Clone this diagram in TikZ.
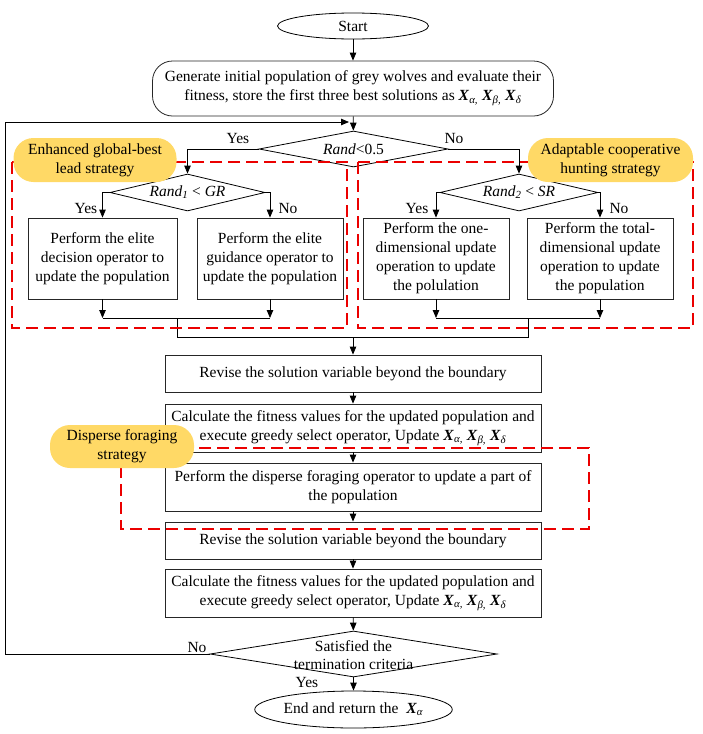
\documentclass[tikz,border=0pt]{standalone}
\usepackage{fontspec}
\setmainfont{Liberation Serif}
\usetikzlibrary{shapes.geometric,arrows.meta}
\definecolor{tagy}{RGB}{255,217,102}
\definecolor{dred}{RGB}{235,0,0}
\newcommand{\Xv}[1]{\textbf{\textit{X}}\textsubscript{\textit{#1}}}
\newcommand{\fsz}{\fontsize{15.5pt}{19pt}\selectfont}
\begin{document}
\begin{tikzpicture}[x=1pt,y=-1pt, font=\fsz,
 every node/.style={inner sep=0pt},
 box/.style={draw=black!85, line width=0.8pt, rectangle, align=center},
 term/.style={draw=black, line width=0.8pt, ellipse},
 dec/.style={draw=black, line width=0.8pt, diamond},
 txt/.style={align=center},
 arr/.style={line width=0.8pt, -{Triangle[length=8pt,width=6.5pt]}},
 ln/.style={line width=0.8pt},
 redbox/.style={draw=dred, line width=1.6pt, dash pattern=on 12pt off 6pt},
 strat/.style={fill=tagy, rounded corners=20pt, align=center, minimum height=44pt}]
\useasboundingbox (0,0) rectangle (702,734);
% main nodes
\node[term, minimum width=151pt, minimum height=26pt] (start) at (353,26) {Start};
\node[box, rounded corners=20pt, minimum width=401pt, minimum height=55pt] (gen) at (353,88.5)
 {Generate initial population of grey wolves and evaluate their\\fitness, store the first three best solutions as \Xv{α,} \Xv{β,} \Xv{δ}};
\node[dec, minimum width=189pt, minimum height=36pt] (d1) at (353.5,149) {};
\node[txt] (d1t) at (d1) {\textit{Rand}<0.5};
\node[dec, minimum width=155pt, minimum height=37pt] (d2) at (187.5,192.5) {};
\node[txt] (d2t) at (d2) {\textit{Rand}\textsubscript{\textit{1}} < \textit{GR}};
\node[dec, minimum width=158pt, minimum height=37pt] (d3) at (519,192.5) {};
\node[txt] (d3t) at (d3) {\textit{Rand}\textsubscript{\textit{2}} < \textit{SR}};
\node[box, minimum width=149pt, minimum height=81pt] (b1) at (102.5,258.5) {Perform the elite\\decision operator to\\update the population};
\node[box, minimum width=146pt, minimum height=81pt] (b2) at (270,258.5) {Perform the elite\\guidance operator to\\update the population};
\node[box, minimum width=146pt, minimum height=81pt] (b3) at (436,258.5) {Perform the one-\\dimensional update\\operation to update\\the polulation};
\node[box, minimum width=146pt, minimum height=81pt] (b4) at (600,258.5) {Perform the total-\\dimensional update\\operation to update\\the population};
\node[box, minimum width=376pt, minimum height=37pt] (r1) at (353,373.5) {Revise the solution variable beyond the boundary};
\node[box, minimum width=376pt, minimum height=48pt] (c1) at (353,428) {Calculate the fitness values for the updated population and\\execute greedy select operator, Update \Xv{α,} \Xv{β,} \Xv{δ}};
\node[box, minimum width=376pt, minimum height=48pt] (p1) at (353,487) {Perform the disperse foraging operator to update a part of\\the population};
\node[box, minimum width=376pt, minimum height=37pt] (r2) at (353,540.5) {Revise the solution variable beyond the boundary};
\node[box, minimum width=376pt, minimum height=48pt] (c2) at (353,593) {Calculate the fitness values for the updated population and\\execute greedy select operator, Update \Xv{α,} \Xv{β,} \Xv{δ}};
\node[dec, minimum width=287pt, minimum height=46pt] (d4) at (353.5,654) {};
\node[txt, font=\fontsize{15.5pt}{18pt}\selectfont] (d4t) at (353.5,655) {Satisfied the\\termination criteria};
\node[term, minimum width=197pt, minimum height=37pt] (end) at (353.5,709.5) {End and return the\ \ \Xv{α}};
% branch labels
\node[txt] (yes1) at (238,138) {Yes};
\node[txt] (no1) at (454,138) {No};
\node[txt] (yes2) at (86,208) {Yes};
\node[txt] (no2) at (288,208) {No};
\node[txt] (yes3) at (417,208) {Yes};
\node[txt] (no3) at (619,208) {No};
\node[txt] (no4) at (197,647) {No};
\node[txt] (yes4) at (307,682) {Yes};
% connectors
\draw[arr] (start) -- (gen);
\draw[arr] (gen) -- (d1);
\coordinate (lpx) at (5.5,654);
\coordinate (lpy) at (5.5,122);
\coordinate (lpe) at (349,122);
\draw[arr] (d4.west) -- (lpx) -- (lpy) -- (lpe);
\draw[arr] (d1.west) -| (d2.north);
\draw[arr] (d1.east) -| (d3.north);
\draw[arr] (d2.west) -| (b1.north);
\draw[arr] (d2.east) -| (b2.north);
\draw[arr] (d3.west) -| (b3.north);
\draw[arr] (d3.east) -| (b4.north);
\coordinate (mL) at (177,318);
\coordinate (mR) at (528,318);
\coordinate (jL) at (177,337);
\coordinate (jR) at (528,337);
\draw[arr] (b1.south) -- (b1.south |- mL);
\draw[arr] (b2.south) -- (b2.south |- mL);
\draw[arr] (b3.south) -- (b3.south |- mR);
\draw[arr] (b4.south) -- (b4.south |- mR);
\draw[ln] (b1.south |- mL) -- (b2.south |- mL);
\draw[ln] (b3.south |- mR) -- (b4.south |- mR);
\draw[ln] (mL) -- (jL) -- (jR) -- (mR);
\draw[arr] (r1.north |- jL) -- (r1.north);
\draw[arr] (r1) -- (c1);
\draw[arr] (c1) -- (p1);
\draw[arr] (p1) -- (r2);
\draw[arr] (r2) -- (c2);
\draw[arr] (c2) -- (d4);
\draw[arr] (d4) -- (end);
% strategy regions
\draw[redbox] (12,162) rectangle (347,328);
\draw[redbox] (358,162) rectangle (693,328);
\draw[redbox] (121,448) rectangle (589,529);
\node[strat, minimum width=163pt] (s1) at (95,160) {Enhanced global-best\\lead strategy};
\node[strat, minimum width=165pt] (s2) at (610.5,160) {Adaptable cooperative\\hunting strategy};
\node[strat, minimum width=144pt, minimum height=43pt] (s3) at (122,446.5) {Disperse foraging\\strategy};
\end{tikzpicture}
\end{document}
